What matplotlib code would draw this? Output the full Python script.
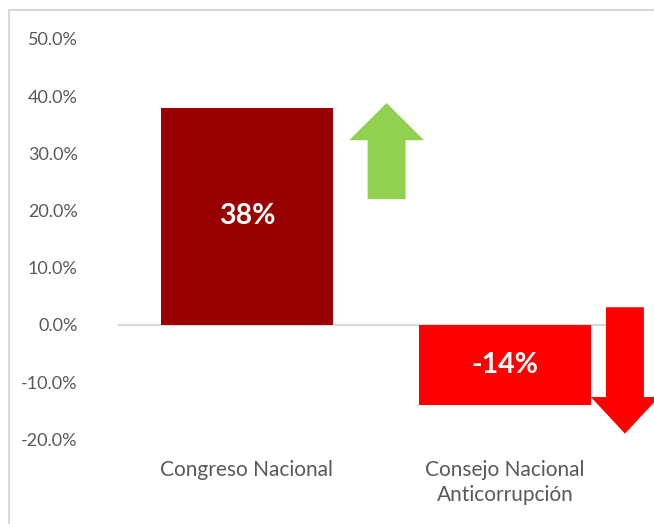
import numpy as np
import matplotlib.pyplot as plt
import matplotlib.patches as mpatches
from matplotlib.ticker import FuncFormatter

plt.rcParams['font.family'] = ['Lato', 'DejaVu Sans']

# Data
categories = ['Congreso Nacional', 'Consejo Nacional\nAnticorrupción']
values = [0.38, -0.14]
labels = ['38%', '-14%']
colors = ['#990000', '#FF0000']

fig = plt.figure(figsize=(6.54, 5.24), dpi=100)
ax = fig.add_axes([0.1804, 0.1615, 0.789, 0.7641])

x = np.arange(len(categories))
ax.bar(x, values, width=0.667, color=colors, zorder=2)

for xi, v, lab in zip(x, values, labels):
    ax.text(xi, v / 2, lab, ha='center', va='center', color='white',
            fontsize=20.5, fontweight='bold', zorder=3)

# Trend arrows next to the bars
up = mpatches.FancyArrow(0.541, 0.22, 0, 0.168, width=0.147, head_width=0.29,
                         head_length=0.065, length_includes_head=True,
                         color='#92D050', lw=0, clip_on=False, zorder=4)
down = mpatches.FancyArrow(1.465, 0.031, 0, -0.221, width=0.147, head_width=0.264,
                           head_length=0.064, length_includes_head=True,
                           color='#FF0000', lw=0, clip_on=False, zorder=4)
ax.add_patch(up)
ax.add_patch(down)

ax.axhline(0, color='#D9D9D9', lw=1.5, zorder=1)
ax.set_xlim(-0.5, 1.5)
ax.set_ylim(-0.2, 0.5)
ax.set_yticks(np.arange(-0.2, 0.51, 0.1))
ax.yaxis.set_major_formatter(FuncFormatter(lambda v, p: f'{v*100:.1f}%'))
ax.set_xticks(x)
ax.set_xticklabels(categories, fontsize=15, linespacing=1.3)
ax.tick_params(axis='both', length=0, colors='#595959')
ax.tick_params(axis='y', pad=29, labelsize=13)
ax.tick_params(axis='x', pad=15)
for s in ax.spines.values():
    s.set_visible(False)

# Chart border
fig.patches.append(mpatches.Rectangle((9 / 654, -0.1), 1.2, 1 - 10 / 524 + 0.1,
                                      transform=fig.transFigure, fill=False,
                                      edgecolor='#D9D9D9', lw=1.5))

fig.savefig('out.png', dpi=100)
